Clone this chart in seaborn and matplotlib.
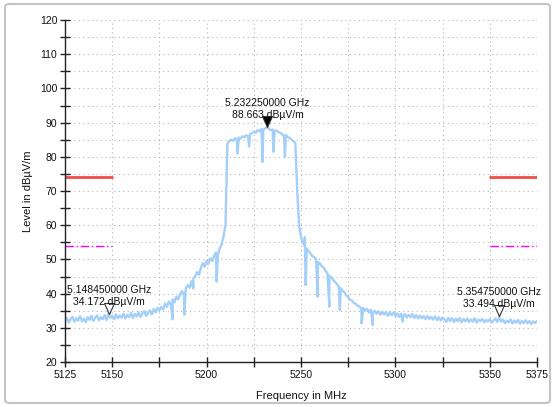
import numpy as np
import pandas as pd
import matplotlib
matplotlib.use("Agg")
import matplotlib.pyplot as plt
from matplotlib.patches import FancyBboxPatch
from matplotlib.ticker import MultipleLocator, FixedLocator
import seaborn as sns

# ---------------- data ----------------
freq_start_mhz = 5125
freq_step_mhz = 1
level_dbuv = [
    32.0, 32.9, 31.5, 32.6, 33.2, 31.8, 32.8, 32.1, 33.4, 31.9,
    32.7, 31.7, 33.1, 32.3, 33.5, 32.0, 33.0, 33.6, 32.2, 33.1,
    32.5, 33.7, 32.3, 34.2, 32.9, 33.5, 32.5, 33.9, 32.8, 33.6,
    33.0, 34.1, 32.7, 33.8, 33.1, 34.4, 32.9, 34.0, 33.3, 34.6,
    33.2, 34.2, 34.9, 33.5, 34.5, 35.1, 33.9, 35.5, 34.5, 35.9,
    35.1, 36.1, 35.4, 37.1, 36.1, 37.7, 36.9, 38.3, 37.5, 39.1,
    38.3, 39.9, 40.7, 39.9, 41.6, 42.5, 41.7, 43.6, 44.5, 45.1,
    46.3, 45.5, 47.5, 48.9, 47.9, 49.6, 48.7, 50.3, 49.5, 51.1,
    52.0, 51.4, 53.3, 54.5, 56.8, 60.0, 83.8, 84.6, 85.0, 84.7,
    85.4, 85.1, 85.6, 85.3, 86.0, 85.7, 86.3, 86.0, 86.6, 86.9,
    87.3, 87.0, 87.8, 87.5, 88.1, 87.9, 88.3, 88.66, 88.2, 87.8,
    88.0, 87.5, 87.7, 87.2, 87.0, 86.6, 86.2, 86.4, 85.8, 85.5,
    85.0, 84.6, 84.0, 70.0, 60.0, 56.5, 54.8, 54.0, 53.2, 52.4,
    51.8, 51.0, 50.6, 50.0, 49.2, 48.8, 48.0, 47.6, 46.6, 46.0,
    45.2, 44.8, 44.0, 43.4, 42.8, 42.0, 41.6, 40.8, 40.4, 39.4,
    39.0, 38.2, 38.0, 37.2, 37.0, 36.4, 36.2, 35.6, 35.8, 35.0,
    35.5, 34.5, 35.3, 34.3, 35.0, 34.1, 34.9, 33.8, 34.7, 33.9,
    34.6, 33.5, 34.4, 33.7, 34.5, 33.4, 34.2, 33.2, 34.1, 33.3,
    34.0, 33.0, 33.8, 33.1, 34.0, 32.9, 33.7, 32.7, 33.6, 32.8,
    33.4, 32.5, 33.5, 32.6, 33.2, 32.4, 33.3, 32.3, 33.1, 32.1,
    33.0, 32.4, 31.8, 32.9, 32.0, 32.8, 31.7, 32.7, 31.9, 32.9,
    31.6, 32.6, 31.9, 32.7, 31.7, 32.5, 31.8, 32.8, 31.5, 32.4,
    31.9, 32.6, 31.6, 32.3, 31.8, 32.5, 31.5, 32.2, 32.7, 31.7,
    33.2, 31.8, 32.4, 31.4, 32.1, 31.6, 32.4, 31.3, 32.1, 31.5,
    32.3, 31.2, 32.0, 31.4, 32.2, 31.3, 32.0, 31.1, 31.9, 31.4,
    32.0,
]
spike_freq_mhz = [5182.0, 5188.2, 5193.0, 5205.3,
                  5216.4, 5222.5, 5229.7, 5235.3, 5241.5,
                  5252.0, 5252.5, 5258.8, 5265.0, 5270.6, 5282.1, 5288.0, 5304.0]
spike_level_dbuv = [32.5, 33.8, 41.5, 43.5,
                    81.0, 83.0, 78.5, 81.5, 80.0,
                    56.5, 42.5, 39.1, 36.2, 35.2, 31.3, 30.8, 31.8]

limit_spans_mhz = [(5125, 5150), (5350, 5375)]
limit_peak_dbuv = 74
limit_avg_dbuv = 54

marker_freq_mhz = [5148.45, 5232.25, 5354.75]
marker_level_dbuv = [34.172, 88.663, 33.494]
marker_labels = ["5.148450000 GHz\n34.172 dB\u00b5V/m",
                 "5.232250000 GHz\n88.663 dB\u00b5V/m",
                 "5.354750000 GHz\n33.494 dB\u00b5V/m"]
marker_filled = [False, True, False]

x_ticks = [5125, 5150, 5175, 5200, 5225, 5250, 5275, 5300, 5325, 5350, 5375]
x_tick_labels = ["5125", "5150", "", "5200", "", "5250", "", "5300", "", "5350", "5375"]
y_ticks = [20, 30, 40, 50, 60, 70, 80, 90, 100, 110, 120]

# ---------------- build frame ----------------
freqs = freq_start_mhz + freq_step_mhz * np.arange(len(level_dbuv))
trace = pd.DataFrame({"freq": np.concatenate([freqs, spike_freq_mhz]),
                      "level": np.concatenate([level_dbuv, spike_level_dbuv])})
trace = trace.sort_values("freq").reset_index(drop=True)

# ---------------- plot ----------------
sns.set_theme(style="white")
plt.rcParams["font.family"] = ["Liberation Sans", "DejaVu Sans"]

fig = plt.figure(figsize=(5.52, 4.07), dpi=100)
ax = fig.add_axes([65 / 552, 1 - 362 / 407, (537 - 65) / 552, (362 - 20) / 407])

# frame around the whole figure
border = FancyBboxPatch((5 / 552, 4 / 407), 545 / 552, 399 / 407,
                        boxstyle="round,pad=0,rounding_size=0.008",
                        transform=fig.transFigure, fill=False,
                        edgecolor="#c4c4c4", linewidth=1.5)
fig.patches.append(border)

sns.lineplot(data=trace, x="freq", y="level", ax=ax, sort=True, estimator=None,
             color="#a3cff8", linewidth=1.7)

for (x0, x1) in limit_spans_mhz:
    lim = pd.DataFrame({"freq": [x0, x1], "peak": [limit_peak_dbuv] * 2,
                        "avg": [limit_avg_dbuv] * 2})
    sns.lineplot(data=lim, x="freq", y="peak", ax=ax, color="#ef4e46", linewidth=2.0)
    sns.lineplot(data=lim, x="freq", y="avg", ax=ax, color="#ff00ff", linewidth=1.0,
                 linestyle=(0, (6, 2, 1, 2)))

tri = [(-0.45, 1.0), (0.45, 1.0), (0.0, 0.0), (-0.45, 1.0)]
mk = pd.DataFrame({"freq": marker_freq_mhz, "level": marker_level_dbuv})
for i in range(len(mk)):
    sns.scatterplot(data=mk.iloc[[i]], x="freq", y="level", ax=ax, marker=tri, s=250,
                    color="black" if marker_filled[i] else "white",
                    edgecolor="#333333", linewidth=0.8, zorder=5, legend=False)
    ax.annotate(marker_labels[i], (marker_freq_mhz[i], marker_level_dbuv[i]),
                xytext=(0, 5), textcoords="offset points", ha="center", va="bottom",
                fontsize=7.5, linespacing=1.25, color="#111111", zorder=6)

ax.set_xlim(5125, 5375)
ax.set_ylim(20, 120)
ax.xaxis.set_major_locator(FixedLocator(x_ticks))
ax.set_xticklabels(x_tick_labels)
ax.yaxis.set_major_locator(FixedLocator(y_ticks))
ax.yaxis.set_minor_locator(MultipleLocator(5))

ax.grid(True, which="both", axis="y", linestyle=(0, (1, 3)), color="#b5b5b5", linewidth=0.8)
ax.grid(True, which="major", axis="x", linestyle=(0, (1, 3)), color="#b5b5b5", linewidth=0.8)
ax.set_axisbelow(True)

for s in ["top", "right"]:
    ax.spines[s].set_visible(False)
for s in ["left", "bottom"]:
    ax.spines[s].set_color("#222222")
    ax.spines[s].set_linewidth(1.0)

ax.tick_params(axis="both", which="both", direction="inout", length=7, width=1.0,
               color="#222222", labelsize=7.5, labelcolor="#111111", pad=2)
ax.tick_params(axis="both", which="both", bottom=True, left=True)

ax.set_xlabel("Frequency in MHz", fontsize=8, color="#111111", labelpad=8)
ax.set_ylabel("Level in dB\u00b5V/m", fontsize=8, color="#111111", labelpad=5)

fig.savefig("out.png", dpi=100)
